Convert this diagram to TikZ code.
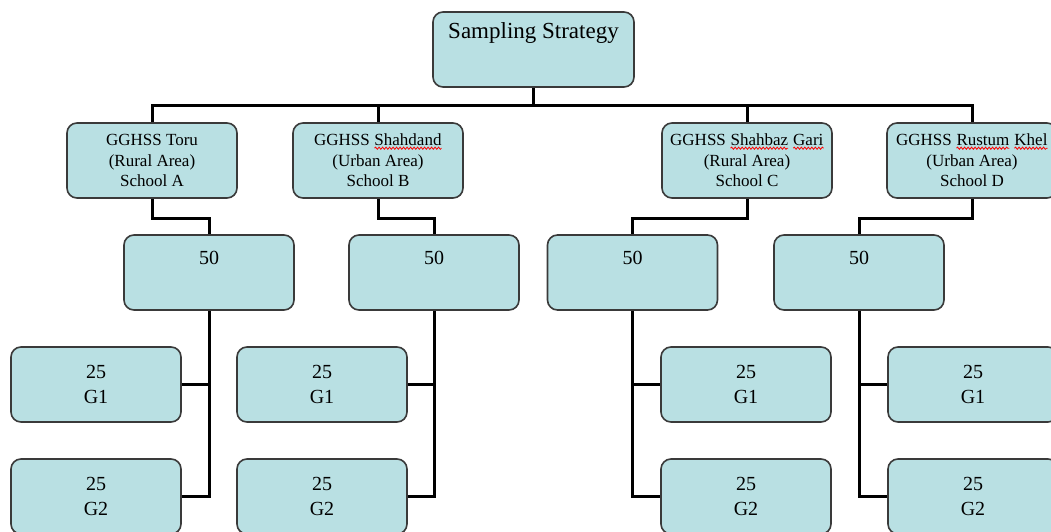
\documentclass[tikz,border=0pt]{standalone}
\usepackage{fontspec}
\setmainfont{Liberation Serif}
\usetikzlibrary{decorations.pathmorphing}
\definecolor{boxfill}{HTML}{B9E0E3}
\definecolor{boxline}{HTML}{3A3A3A}
\newcommand\spellerr[1]{\tikz[baseline=(w.base)]{\node[draw=none,fill=none,inner sep=0pt,outer sep=0pt,minimum width=0pt,minimum height=0pt,rounded corners=0pt] (w) {#1};\draw[red,line width=0.8pt,rounded corners=0pt,decorate,decoration={snake,amplitude=1.1pt,segment length=3.5pt}] ([yshift=-2.4pt]w.base west) -- ([yshift=-2.4pt]w.base east);}}
\begin{document}
\begin{tikzpicture}[x=1pt,y=-1pt,
  box/.style={draw=boxline,line width=1.6pt,fill=boxfill,rounded corners=10pt,minimum width=170pt,minimum height=75pt,inner sep=0pt,align=center},
  school/.style={box,font=\fontsize{17}{20.5}\selectfont},
  grp/.style={box,font=\fontsize{20}{25}\selectfont},
  toplbl/.style={anchor=base,yshift=-27pt,inner sep=0pt,font=\fontsize{23}{27}\selectfont},
  numlbl/.style={anchor=base,yshift=-30pt,inner sep=0pt,font=\fontsize{20}{24}\selectfont},
  link/.style={line width=3pt,black}]
\useasboundingbox (0,0) rectangle (1051,532);
\fill[white] (0,0) rectangle (1051,532);
\clip (0,0) rectangle (1051,532);
\coordinate (bar) at (0,106);
\coordinate (mid) at (0,218);
% top
\node[box,minimum width=201pt,label={[toplbl]north:Sampling Strategy}] (top) at (533.5,49.5) {};
% schools
\node[school] (sA) at (152,160.5) {GGHSS Toru\\(Rural Area)\\School A};
\node[school] (sB) at (378,160.5) {GGHSS \spellerr{Shahdand}\\(Urban Area)\\School B};
\node[school] (sC) at (747,160.5) {GGHSS \spellerr{Shahbaz} \spellerr{Gari}\\(Rural Area)\\School C};
\node[school] (sD) at (972,160.5) {GGHSS \spellerr{Rustum} \spellerr{Khel}\\(Urban Area)\\School D};
% 50 boxes
\node[box,label={[numlbl]north:50}] (nA) at (209,272.5) {};
\node[box,label={[numlbl]north:50}] (nB) at (434,272.5) {};
\node[box,label={[numlbl]north:50}] (nC) at (632.5,272.5) {};
\node[box,label={[numlbl]north:50}] (nD) at (859,272.5) {};
% groups
\node[grp] (g1A) at (96,384.5) {25\\G1};
\node[grp] (g2A) at (96,496.5) {25\\G2};
\node[grp] (g1B) at (322,384.5) {25\\G1};
\node[grp] (g2B) at (322,496.5) {25\\G2};
\node[grp] (g1C) at (746,384.5) {25\\G1};
\node[grp] (g2C) at (746,496.5) {25\\G2};
\node[grp] (g1D) at (973,384.5) {25\\G1};
\node[grp] (g2D) at (973,496.5) {25\\G2};
% connectors
\draw[link] (top.south) -- (top.south |- bar);
\draw[link] (sA.north) |- (sD.north |- bar) -- (sD.north);
\draw[link] (sB.north) -- (sB.north |- bar);
\draw[link] (sC.north) -- (sC.north |- bar);
\foreach \s/\n in {sA/nA,sB/nB,sC/nC,sD/nD}{
  \draw[link] (\s.south) -- (\s.south |- mid) -| (\n.north);
}
\foreach \n/\a/\b in {nA/g1A/g2A,nB/g1B/g2B,nC/g1C/g2C,nD/g1D/g2D}{
  \draw[link] (\n.south) |- (\b);
  \draw[link] (\a) -- (\a -| \n.south);
}
\end{tikzpicture}
\end{document}
